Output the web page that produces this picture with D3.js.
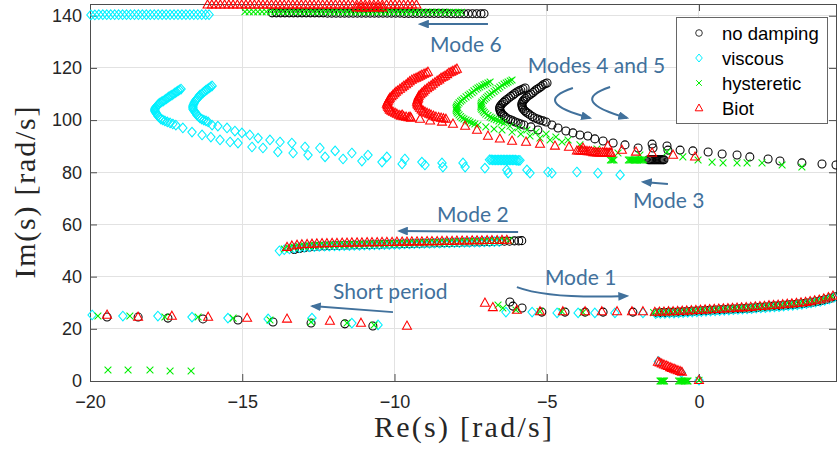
<!DOCTYPE html>
<html>
<head>
<meta charset="utf-8">
<script src="https://cdn.jsdelivr.net/npm/d3@7"></script>
<style>
body { margin: 0; background: #fff; }
</style>
</head>
<body>
<svg width="837" height="453"></svg>
<script>
// ---- data ----
var xTicks = [-20, -15, -10, -5, 0];
var yTicks = [0, 20, 40, 60, 80, 100, 120, 140];
var seriesNames = ["no damping", "viscous", "hysteretic", "Biot"];

// no damping
var ndShort = [[-19.44,24.5],[-18.42,24.5],[-17.44,24.1],[-16.29,23.8],[-15.14,23.4],[-13.99,22.6],[-12.74,22.2],[-11.63,21.9],[-10.71,21.1]];
var ndMode1 = [[-6.21,30.3],[-6.11,28.7],[-5.81,28.0],[-5.16,26.4],[-4.40,26.4],[-3.74,26.4],[-3.15,26.4],[-2.17,26.4],
  [-1.38,26.1],[-1.23,26.2],[-1.08,26.2],[-0.93,26.3],[-0.78,26.3],[-0.63,26.4],[-0.48,26.5],[-0.33,26.6],[-0.18,26.7],[-0.03,26.8],
  [0.12,26.9],[0.27,27.0],[0.42,27.1],[0.57,27.2],[0.72,27.3],[0.87,27.4],[1.02,27.5],[1.17,27.6],[1.32,27.7],[1.47,27.8],
  [1.62,27.9],[1.77,28.0],[1.92,28.2],[2.07,28.3],[2.22,28.4],[2.37,28.6],[2.52,28.7],[2.67,28.8],[2.82,29.0],[2.97,29.2],
  [3.12,29.3],[3.27,29.5],[3.42,29.7],[3.57,29.9],[3.72,30.2],[3.87,30.5],[4.02,30.8],[4.17,31.2],[4.32,31.7],[4.47,32.3]];
var ndMode2 = [[-13.29,50.4],[-13.12,50.8],[-12.96,51.1],[-12.79,51.3],[-12.63,51.5],[-12.47,51.6],[-12.30,51.7],[-12.14,51.8],
  [-11.97,51.9],[-11.81,51.9],[-11.64,52.0],[-11.48,52.0],[-11.32,52.1],[-11.15,52.1],[-10.99,52.2],[-10.82,52.2],[-10.66,52.3],
  [-10.49,52.3],[-10.33,52.4],[-10.17,52.4],[-10.00,52.5],[-9.84,52.5],[-9.67,52.6],[-9.51,52.6],[-9.35,52.7],[-9.18,52.7],
  [-9.02,52.8],[-8.85,52.8],[-8.69,52.9],[-8.52,52.9],[-8.36,53.0],[-8.20,53.0],[-8.03,53.1],[-7.87,53.1],[-7.70,53.2],
  [-7.54,53.2],[-7.37,53.3],[-7.21,53.3],[-7.05,53.4],[-6.88,53.4],[-6.72,53.5],[-6.55,53.5],[-6.39,53.6],[-6.22,53.6],
  [-6.06,53.7],[-5.92,53.7],[-5.82,53.8]];
var ndMode3 = [[-1.66,84.8],[-1.62,84.8],[-1.58,84.8],[-1.54,84.8],[-1.50,84.8],[-1.46,84.8],[-1.42,84.8],[-1.38,84.8],[-1.34,84.8],[-1.30,84.8],
  [-1.26,84.8],[-1.22,84.8],[-1.18,84.8],[-1.15,84.8]];
var ndModes45 = [
  [-5.71,112.3],[-5.78,111.9],[-5.85,111.5],[-5.91,111.2],[-5.98,110.8],[-6.05,110.2],[-6.11,109.6],[-6.18,109.1],[-6.24,108.5],
  [-6.31,107.9],[-6.37,107.3],[-6.42,106.8],[-6.47,106.2],[-6.51,105.6],[-6.54,105.0],[-6.55,104.5],[-6.54,103.9],[-6.52,103.3],
  [-6.50,102.7],[-6.45,102.2],[-6.40,101.6],[-6.34,101.0],[-6.27,100.4],[-6.19,100.1],[-6.11,99.7],[-6.03,99.3],[-5.94,98.9],
  [-5.85,98.5],[-5.75,98.1],
  [-4.99,114.2],[-5.05,113.9],[-5.12,113.5],[-5.18,112.9],[-5.25,112.3],[-5.32,111.8],[-5.39,111.2],[-5.45,110.6],[-5.52,110.0],
  [-5.58,109.5],[-5.65,108.9],[-5.70,108.3],[-5.75,107.7],[-5.78,107.2],[-5.81,106.6],[-5.82,106.0],[-5.81,105.4],[-5.80,104.9],
  [-5.78,104.3],[-5.73,103.7],[-5.68,103.1],[-5.62,102.6],[-5.55,102.0],[-5.47,101.4],[-5.39,100.8],[-5.30,100.4],[-5.22,100.0],
  [-5.12,99.7],[-5.02,99.3],
  [-5.52,97.4],[-5.29,96.2],[-4.83,98.1],[-4.63,97.0],[-4.37,95.8],[-4.14,95.1],[-3.91,94.3],[-3.65,93.9],[-3.42,92.8],
  [-3.15,92.0],[-2.82,91.2],[-2.43,90.5],[-2.00,89.3],[-1.54,90.8],[-1.51,89.3],[-1.05,90.1],[-1.02,88.5],[-0.62,88.5],
  [-0.20,88.2],[0.30,87.8],[0.76,87.0],[1.25,86.6],[1.67,85.9],[2.27,85.1],[2.66,84.3],[3.38,83.6],[4.04,83.2],[4.50,82.8]];
var ndMode6 = [[-14.02,141.1],[-13.88,141.1],[-13.74,141.1],[-13.60,141.1],[-13.46,141.1],[-13.32,141.1],[-13.18,141.1],
  [-13.04,141.1],[-12.90,141.1],[-12.76,141.1],[-12.62,141.1],[-12.48,141.1],[-12.34,141.1],[-12.20,141.0],[-12.06,141.0],
  [-11.92,141.0],[-11.78,141.0],[-11.64,141.0],[-11.50,141.0],[-11.36,141.0],[-11.22,141.0],[-11.08,141.0],[-10.94,141.0],
  [-10.80,141.0],[-10.66,141.0],[-10.52,141.0],[-10.38,141.0],[-10.24,141.0],[-10.10,141.0],[-9.96,141.0],[-9.82,141.0],
  [-9.68,140.9],[-9.54,140.9],[-9.40,140.9],[-9.26,140.9],[-9.12,140.9],[-8.98,140.9],[-8.84,140.9],[-8.70,140.9],
  [-8.56,140.9],[-8.42,140.9],[-8.28,140.9],[-8.14,140.8],[-8.00,140.8],[-7.86,140.8],[-7.72,140.8],[-7.58,140.8],
  [-7.44,140.8],[-7.30,140.8],[-7.16,140.8],[-7.06,140.8]];

// viscous
var viShort = [[-19.93,25.3],[-18.92,24.9],[-17.77,24.9],[-16.65,24.5],[-15.47,24.1],[-14.15,23.8],[-12.71,24.1],[-11.40,22.2],[-10.54,21.5]];
var viMode1 = [[-6.34,26.4],[-5.48,26.4],[-4.66,26.1],[-3.97,26.1],[-3.42,26.1],[-2.76,26.1],[-1.84,26.1],
  [-1.42,25.8],[-1.27,25.9],[-1.12,25.9],[-0.97,26.0],[-0.82,26.0],[-0.67,26.1],[-0.52,26.2],[-0.37,26.3],[-0.22,26.4],
  [-0.07,26.5],[0.08,26.6],[0.23,26.7],[0.38,26.8],[0.53,26.9],[0.68,27.0],[0.83,27.1],[0.98,27.2],[1.13,27.3],[1.28,27.4],
  [1.43,27.5],[1.58,27.6],[1.73,27.7],[1.88,27.9],[2.03,28.0],[2.18,28.1],[2.33,28.3],[2.48,28.4],[2.63,28.5],[2.78,28.7],
  [2.93,28.9],[3.08,29.0],[3.23,29.2],[3.38,29.4],[3.53,29.6],[3.68,29.9],[3.83,30.2],[3.98,30.5],[4.13,30.9],[4.28,31.4],[4.43,32.0]];
var viMode2 = [[-13.78,49.9],[-13.62,50.3],[-13.45,50.6],[-13.29,50.9],[-13.12,51.1],[-12.96,51.3],[-12.80,51.4],[-12.63,51.5],
  [-12.47,51.6],[-12.30,51.7],[-12.14,51.7],[-11.97,51.8],[-11.81,51.8],[-11.65,51.9],[-11.48,51.9],[-11.32,52.0],[-11.15,52.0],
  [-10.99,52.1],[-10.82,52.1],[-10.66,52.2],[-10.50,52.2],[-10.33,52.3],[-10.17,52.3],[-10.00,52.4],[-9.84,52.4],[-9.67,52.5],
  [-9.51,52.5],[-9.35,52.6],[-9.18,52.6],[-9.02,52.7],[-8.85,52.7],[-8.69,52.8],[-8.52,52.8],[-8.36,52.9],[-8.20,52.9],
  [-8.03,53.0],[-7.87,53.0],[-7.70,53.1],[-7.54,53.1],[-7.37,53.2],[-7.21,53.2],[-7.05,53.3],[-6.88,53.3],[-6.72,53.4],[-6.56,53.4]];
var viMode3 = [[-6.88,84.8],[-6.83,84.8],[-6.78,84.7],[-6.73,84.7],[-6.68,84.7],[-6.63,84.7],[-6.58,84.7],[-6.53,84.7],
  [-6.48,84.7],[-6.43,84.7],[-6.38,84.7],[-6.33,84.7],[-6.28,84.7],[-6.23,84.7],[-6.18,84.7],[-6.13,84.7],[-6.08,84.7],
  [-6.03,84.7],[-5.98,84.6],[-5.93,84.6],[-5.88,84.6]];
var viNearZero = [[-1.33,7.5],[-0.58,3.2],[0.0,0.3]];
var viModes45 = [
  [-17.01,111.9],[-17.06,111.6],[-17.11,111.2],[-17.16,110.8],[-17.21,110.4],[-17.26,110.0],[-17.31,109.6],[-17.36,109.3],
  [-17.41,108.9],[-17.45,108.5],[-17.50,108.1],[-17.55,107.7],[-17.60,107.3],[-17.65,107.0],[-17.70,106.6],[-17.74,106.2],
  [-17.77,105.8],[-17.80,105.4],[-17.83,105.0],[-17.85,104.7],[-17.87,104.3],[-17.87,103.9],[-17.87,103.5],[-17.85,103.1],
  [-17.83,102.7],[-17.80,102.2],[-17.77,101.6],[-17.72,101.0],[-17.67,100.4],[-17.61,100.1],[-17.54,99.7],[-17.46,99.3],
  [-17.37,98.9],[-17.28,98.5],[-17.18,98.1],
  [-15.99,113.1],[-16.04,112.7],[-16.09,112.3],[-16.14,111.9],[-16.19,111.5],[-16.24,111.0],[-16.29,110.4],[-16.34,110.0],
  [-16.39,109.6],[-16.42,109.1],[-16.45,108.5],[-16.49,108.1],[-16.52,107.7],[-16.55,107.2],[-16.58,106.6],[-16.60,106.0],
  [-16.62,105.4],[-16.62,104.9],[-16.62,104.3],[-16.59,103.7],[-16.55,103.1],[-16.52,102.6],[-16.49,102.0],[-16.44,101.4],
  [-16.39,100.8],[-16.33,100.4],[-16.26,100.0],[-16.19,99.7],[-16.12,99.3],
  [-15.99,98.1],[-15.80,97.7],[-15.50,97.0],[-15.24,95.8],[-15.01,95.1],[-14.75,94.3],[-14.48,93.1],[-14.09,92.4],
  [-13.76,91.6],[-13.37,91.2],[-12.94,89.7],[-12.45,89.3],[-11.95,88.2],[-11.40,87.4],[-10.87,86.6],[-10.25,85.9],
  [-9.66,85.1],[-9.10,83.9],[-8.44,83.6],[-7.75,83.6],[-7.03,81.6],[-6.31,80.9],[-5.65,80.9],[-4.96,80.1],[-4.01,80.1],
  [-3.32,79.7],[-2.59,79.0],
  [-16.95,97.0],[-16.65,95.4],[-16.32,94.3],[-16.03,93.5],[-15.73,92.4],[-15.40,91.6],[-15.14,91.2],[-14.68,89.7],
  [-14.32,89.3],[-13.83,87.8],[-13.33,87.4],[-12.84,86.6],[-12.28,85.9],[-11.69,85.1],[-11.07,84.3],[-10.41,83.9],
  [-9.75,83.2],[-9.00,82.8],[-8.41,82.0],[-7.68,82.0],[-6.27,79.7],[-5.55,79.7],[-4.83,79.7]];
var viMode6 = [[-19.97,140.3],[-19.84,140.3],[-19.71,140.4],[-19.58,140.4],[-19.45,140.4],[-19.32,140.4],[-19.19,140.4],
  [-19.06,140.4],[-18.93,140.4],[-18.80,140.4],[-18.67,140.4],[-18.54,140.4],[-18.41,140.4],[-18.28,140.4],[-18.15,140.4],
  [-18.02,140.4],[-17.89,140.4],[-17.76,140.4],[-17.63,140.4],[-17.50,140.4],[-17.37,140.4],[-17.24,140.4],[-17.11,140.4],
  [-16.98,140.4],[-16.85,140.4],[-16.72,140.4],[-16.59,140.4],[-16.46,140.4],[-16.33,140.4],[-16.20,140.4],[-16.09,140.4]];

// hysteretic
var hyShort = [[-19.74,24.9],[-18.69,24.9],[-17.54,24.5],[-16.45,24.5],[-15.30,24.1],[-14.09,23.4],[-12.74,22.6],[-11.56,22.2],[-10.67,21.5],
  [-19.41,4.2],[-18.75,4.2],[-18.03,4.2],[-17.37,3.8],[-16.68,3.8]];
var hyMode1 = [[-6.60,29.1],[-6.44,28.0],[-6.01,27.2],[-5.22,26.6],[-4.50,26.6],[-3.81,26.3],
  [-1.49,26.2],[-1.34,26.3],[-1.19,26.3],[-1.04,26.4],[-0.89,26.4],[-0.74,26.5],[-0.59,26.6],[-0.44,26.7],[-0.29,26.8],
  [-0.14,26.9],[0.01,27.0],[0.16,27.1],[0.31,27.2],[0.46,27.3],[0.61,27.4],[0.76,27.5],[0.91,27.6],[1.06,27.7],[1.21,27.8],
  [1.36,27.9],[1.51,28.0],[1.66,28.1],[1.81,28.3],[1.96,28.4],[2.11,28.5],[2.26,28.7],[2.41,28.8],[2.56,28.9],[2.71,29.1],
  [2.86,29.3],[3.01,29.4],[3.16,29.6],[3.31,29.8],[3.46,30.0],[3.61,30.3],[3.76,30.6],[3.91,30.9],[4.06,31.3],[4.21,31.8],[4.36,32.4]];
var hyMode2 = [[-13.62,50.6],[-13.46,51.0],[-13.29,51.3],[-13.13,51.5],[-12.96,51.7],[-12.80,51.8],[-12.64,51.9],[-12.47,52.0],
  [-12.31,52.0],[-12.14,52.1],[-11.98,52.1],[-11.81,52.2],[-11.65,52.2],[-11.49,52.3],[-11.32,52.3],[-11.16,52.4],[-10.99,52.4],
  [-10.83,52.5],[-10.66,52.5],[-10.50,52.6],[-10.34,52.6],[-10.17,52.7],[-10.01,52.7],[-9.84,52.8],[-9.68,52.8],[-9.52,52.9],
  [-9.35,52.9],[-9.19,53.0],[-9.02,53.0],[-8.86,53.1],[-8.69,53.1],[-8.53,53.2],[-8.37,53.2],[-8.20,53.3],[-8.04,53.3],
  [-7.87,53.4],[-7.71,53.4],[-7.54,53.5],[-7.38,53.5],[-7.22,53.6],[-7.05,53.6],[-6.89,53.7],[-6.72,53.7],[-6.56,53.8],
  [-6.40,53.8],[-6.24,53.9]];
var hyMode3 = [[-2.91,84.7],[-2.87,84.7],[-2.83,84.7],[-2.79,84.7],
  [-2.32,84.7],[-2.28,84.7],[-2.24,84.7],[-2.20,84.7],[-2.16,84.7],[-2.12,84.7],[-2.08,84.7],[-2.04,84.7],[-2.00,84.7],
  [-1.96,84.7],[-1.92,84.7],[-1.88,84.7],[-1.84,84.7],[-1.82,84.7]];
var hyNearZero = [[-1.28,0],[-1.25,0],[-1.22,0],[-1.19,0],[-1.16,0],[-1.13,0],
  [-0.67,0],[-0.63,0],[-0.59,0],[-0.55,0],[-0.51,0],[-0.47,0],[-0.43,0],[-0.39,0],[-0.36,0],[0.0,0.3]];
var hyModes45 = [
  [-6.86,114.6],[-6.93,114.2],[-7.00,113.8],[-7.06,113.5],[-7.13,113.1],[-7.20,112.7],[-7.26,112.3],[-7.32,111.8],[-7.39,111.2],
  [-7.45,110.6],[-7.52,110.0],[-7.58,109.5],[-7.65,108.9],[-7.72,108.3],[-7.78,107.7],[-7.83,107.2],[-7.88,106.6],[-7.92,106.0],
  [-7.95,105.4],[-7.97,104.9],[-7.98,104.3],[-7.97,103.7],[-7.95,103.1],[-7.92,102.6],[-7.88,102.0],[-7.83,101.4],[-7.78,100.8],
  [-7.72,100.4],[-7.65,100.0],[-7.58,99.7],[-7.52,99.3],[-7.44,98.9],[-7.36,98.5],
  [-6.14,115.4],[-6.20,115.0],[-6.27,114.6],[-6.33,114.2],[-6.40,113.8],[-6.47,113.3],[-6.54,112.7],[-6.60,112.1],[-6.67,111.5],
  [-6.73,111.0],[-6.80,110.4],[-6.87,109.8],[-6.93,109.2],[-6.98,108.7],[-7.03,108.1],[-7.08,107.5],[-7.13,106.9],[-7.15,106.4],
  [-7.16,105.8],[-7.16,105.2],[-7.16,104.6],[-7.13,104.1],[-7.09,103.5],[-7.05,102.9],[-7.00,102.3],[-6.93,101.8],[-6.86,101.2],
  [-6.80,100.8],[-6.73,100.4],[-6.65,100.1],[-6.57,99.7],[-6.49,99.3],[-6.40,98.9],
  [-7.26,98.1],[-7.00,97.4],[-6.73,96.6],[-6.47,96.2],[-6.21,97.7],[-6.14,95.4],[-5.94,97.0],[-5.85,94.7],[-5.65,96.2],
  [-5.55,93.9],[-5.35,95.4],[-5.22,93.1],[-5.02,94.7],[-4.89,92.4],[-4.70,93.5],[-4.50,91.6],[-4.30,92.4],[-3.91,90.5],
  [-3.35,88.9],[-2.66,87.4],[-1.94,86.6],[-1.05,87.8],[-0.53,85.9],[-0.03,84.7],[0.43,83.9],[0.79,83.6],[1.25,83.6],
  [1.58,83.6],[2.07,83.6],[2.73,82.8],[3.38,82.0]];
var hyMode6 = [[-14.91,141.5],[-14.77,141.5],[-14.63,141.5],[-14.49,141.5],[-14.35,141.5],[-14.21,141.5],[-14.07,141.5],
  [-13.93,141.5],[-13.79,141.5],[-13.65,141.5],[-13.51,141.5],[-13.37,141.5],[-13.23,141.5],[-13.09,141.5],[-12.95,141.5],
  [-12.81,141.5],[-12.67,141.5],[-12.53,141.5],[-12.39,141.5],[-12.25,141.5],[-12.11,141.4],[-11.97,141.4],[-11.83,141.4],
  [-11.69,141.4],[-11.55,141.4],[-11.41,141.4],[-11.27,141.4],[-11.13,141.4],[-10.99,141.4],[-10.85,141.4],[-10.71,141.4],
  [-10.57,141.4],[-10.43,141.4],[-10.29,141.4],[-10.15,141.4],[-10.01,141.4],[-9.87,141.4],[-9.73,141.4],[-9.59,141.4],
  [-9.45,141.4],[-9.31,141.4],[-9.17,141.3],[-9.03,141.3],[-8.89,141.3],[-8.75,141.3],[-8.61,141.3],[-8.47,141.3],
  [-8.33,141.3],[-8.19,141.3],[-8.05,141.3],[-7.91,141.3],[-7.80,141.3]];

// Biot
var biShort = [[-19.44,25.3],[-18.42,24.5],[-17.31,24.9],[-16.12,24.5],[-14.84,24.1],[-13.53,23.8],[-12.12,23.0],[-11.10,22.2],[-9.59,21.1]];
var biMode1 = [[-7.03,29.9],[-6.77,28.2],[-5.98,27.2],[-5.22,26.6],[-4.47,26.6],[-3.74,26.6],[-3.19,26.6],[-2.69,26.6],[-2.20,26.6],[-1.84,26.6],
  [-1.45,26.4],[-1.30,26.5],[-1.15,26.5],[-1.00,26.6],[-0.85,26.6],[-0.70,26.7],[-0.55,26.8],[-0.40,26.9],[-0.25,27.0],
  [-0.10,27.1],[0.05,27.2],[0.20,27.3],[0.35,27.4],[0.50,27.5],[0.65,27.6],[0.80,27.7],[0.95,27.8],[1.10,27.9],[1.25,28.0],
  [1.40,28.1],[1.55,28.2],[1.70,28.3],[1.85,28.5],[2.00,28.6],[2.15,28.7],[2.30,28.9],[2.45,29.0],[2.60,29.1],[2.75,29.3],
  [2.90,29.5],[3.05,29.6],[3.20,29.8],[3.35,30.0],[3.50,30.2],[3.65,30.5],[3.80,30.8],[3.95,31.1],[4.10,31.5],[4.25,32.0],[4.40,32.6]];
var biMode2 = [[-13.53,51.3],[-13.37,51.8],[-13.20,52.1],[-13.04,52.3],[-12.87,52.4],[-12.71,52.5],[-12.55,52.6],[-12.38,52.7],
  [-12.22,52.7],[-12.05,52.8],[-11.89,52.8],[-11.72,52.9],[-11.56,52.9],[-11.40,53.0],[-11.23,53.0],[-11.07,53.0],[-10.90,53.1],
  [-10.74,53.1],[-10.57,53.1],[-10.41,53.2],[-10.25,53.2],[-10.08,53.2],[-9.92,53.3],[-9.75,53.3],[-9.59,53.3],[-9.43,53.4],
  [-9.26,53.4],[-9.10,53.4],[-8.93,53.5],[-8.77,53.5],[-8.60,53.5],[-8.44,53.6],[-8.28,53.6],[-8.11,53.6],[-7.95,53.7],
  [-7.78,53.7],[-7.62,53.7],[-7.45,53.8],[-7.29,53.8],[-7.13,53.8],[-6.96,53.9],[-6.80,53.9],[-6.63,53.9],[-6.47,54.0],[-6.31,54.0]];
var biMode3 = [[-4.01,88.2],[-3.95,88.2],[-3.89,88.2],[-3.83,88.2],[-3.77,88.1],[-3.71,88.1],[-3.65,88.0],[-3.59,88.0],[-3.53,87.9],
  [-3.47,87.6],[-3.41,87.6],[-3.35,87.5],[-3.29,87.5],[-3.23,87.5],[-3.17,87.5],[-3.11,87.5],[-3.05,87.5],[-2.99,87.4],
  [-2.93,87.4],[-2.89,87.4]];
var biNearZero = [[-1.35,7.3],[-1.29,7.0],[-1.22,6.6],[-1.15,6.2],[-1.08,5.9],[-1.02,5.6],[-0.95,5.2],[-0.89,4.9],
  [-0.82,4.6],[-0.76,4.3],[-0.69,4.0],[-0.62,3.7],[-0.56,3.4],[0.0,0.3]];
var biModes45 = [
  [-8.90,118.4],[-8.96,118.0],[-9.03,117.7],[-9.10,117.3],[-9.16,116.9],[-9.22,116.5],[-9.29,116.1],[-9.36,115.8],[-9.43,115.4],
  [-9.50,114.8],[-9.56,114.2],[-9.62,113.6],[-9.69,113.1],[-9.75,112.5],[-9.82,111.9],[-9.89,111.3],[-9.95,110.8],[-10.00,110.2],
  [-10.05,109.6],[-10.10,109.0],[-10.15,108.5],[-10.18,107.9],[-10.21,107.3],[-10.23,106.7],[-10.25,106.2],[-10.23,105.6],
  [-10.21,105.0],[-10.18,104.4],[-10.15,103.9],[-10.10,103.5],[-10.05,103.1],[-9.98,102.7],[-9.92,102.3],[-9.85,101.9],
  [-9.79,101.6],[-9.70,101.4],[-9.62,101.2],[-9.54,101.0],[-9.46,100.8],
  [-7.95,119.6],[-8.01,119.2],[-8.08,118.8],[-8.14,118.4],[-8.21,118.1],[-8.27,117.5],[-8.34,116.9],[-8.40,116.5],[-8.47,116.1],
  [-8.53,115.5],[-8.60,115.0],[-8.67,114.4],[-8.74,113.8],[-8.80,113.2],[-8.87,112.7],[-8.93,112.1],[-9.00,111.5],[-9.05,110.9],
  [-9.10,110.4],[-9.15,109.8],[-9.20,109.2],[-9.22,108.6],[-9.23,108.1],[-9.25,107.5],[-9.26,106.9],[-9.25,106.3],[-9.23,105.8],
  [-9.20,105.2],[-9.16,104.6],[-9.11,104.0],[-9.06,103.5],[-9.00,103.1],[-8.93,102.7],[-8.86,102.3],[-8.80,102.0],[-8.72,101.6],
  [-8.64,101.2],[-8.55,101.0],[-8.47,100.8],[-8.39,100.6],[-8.31,100.4],
  [-9.75,102.0],[-9.49,101.2],[-9.16,100.4],[-8.83,99.7],[-8.44,99.3],[-8.08,98.5],[-7.68,97.7],[-7.29,96.2],[-6.93,93.9],
  [-6.54,92.8],[-6.14,92.0],[-5.68,91.6],[-5.22,90.8],[-4.73,90.1],[-4.27,89.7],[-3.81,89.3],[-2.99,90.1],[-2.53,88.5],
  [-2.07,87.8],[-1.54,87.4],[-0.85,86.6],[-0.13,85.9]];
var biMode6 = [[-16.14,144.2],[-16.00,144.2],[-15.86,144.2],[-15.72,144.2],[-15.58,144.2],[-15.44,144.2],[-15.30,144.2],
  [-15.16,144.2],[-15.02,144.2],[-14.88,144.2],[-14.74,144.2],[-14.60,144.2],[-14.46,144.2],[-14.32,144.2],[-14.18,144.2],
  [-14.04,144.2],[-13.90,144.2],[-13.76,144.2],[-13.62,144.2],[-13.48,144.2],[-13.34,144.2],[-13.20,144.2],[-13.06,144.2],
  [-12.92,144.2],[-12.78,144.2],[-12.64,144.2],[-12.50,144.2],[-12.36,144.2],[-12.22,144.2],[-12.08,144.2],[-11.94,144.2],
  [-11.80,144.2],[-11.66,144.2],[-11.52,144.2],[-11.38,144.2],[-11.24,144.2],[-11.10,144.2],[-10.96,144.2],[-10.82,144.2],
  [-10.68,144.2],[-10.54,144.2],[-10.40,144.2],[-10.26,144.2],[-10.12,144.2],[-9.98,144.2],[-9.84,144.2],[-9.70,144.2],
  [-9.56,144.2],[-9.42,144.2],[-9.28,144.2],
  [-11.24,143.1],[-11.10,143.1],[-10.96,143.1],[-10.82,143.1],[-10.68,143.1],[-10.54,143.1],[-10.40,143.1]];

// annotations (data coordinates)
var notes = [
  {text: "Mode 6", at: [-8.83, 126.1]},
  {text: "Modes 4 and 5", at: [-5.62, 118.0]},
  {text: "Mode 3", at: [-2.17, 66.3]},
  {text: "Mode 2", at: [-8.60, 60.9]},
  {text: "Short period", at: [-12.02, 31.6]},
  {text: "Mode 1", at: [-5.06, 36.8]}
];
var arrows = [
  [[-6.93, 136.8], [-9.16, 136.8]],
  [[-1.02, 75.5], [-1.84, 76.3]],
  [[-5.94, 57.1], [-9.85, 57.5]],
  [[-10.05, 26.4], [-12.71, 28.7]]
];
var curvedArrows = [
  [[-4.14, 112.3], [-5.55, 106.9], [-3.58, 100.8]],
  [[-2.92, 112.7], [-4.33, 107.3], [-2.36, 100.8]],
  [[-5.98, 36.0], [-4.92, 31.4], [-2.36, 32.6]]
];

// ---- chart ----
var series = [
  {name: seriesNames[0], color: "#000000", shape: "circle", points: [].concat(ndShort, ndMode1, ndMode2, ndMode3, ndModes45, ndMode6)},
  {name: seriesNames[1], color: "#00f0ff", shape: "diamond", points: [].concat(viShort, viMode1, viMode2, viMode3, viNearZero, viModes45, viMode6)},
  {name: seriesNames[2], color: "#00ee00", shape: "cross", points: [].concat(hyShort, hyMode1, hyMode2, hyMode3, hyNearZero, hyModes45, hyMode6)},
  {name: seriesNames[3], color: "#ff0000", shape: "triangle", points: [].concat(biShort, biMode1, biMode2, biMode3, biNearZero, biModes45, biMode6)}
];

var shapes = {
  diamond: "M0,-4.8L4.2,0L0,4.8L-4.2,0Z",
  cross: "M-3.4,-3.4L3.4,3.4M-3.4,3.4L3.4,-3.4",
  triangle: "M0,-4.9L4.5,3.2L-4.5,3.2Z"
};
var smallShapes = {
  diamond: "M0,-4L3.3,0L0,4L-3.3,0Z",
  cross: "M-2.8,-2.8L2.8,2.8M-2.8,2.8L2.8,-2.8",
  triangle: "M0,-4L3.8,2.8L-3.8,2.8Z"
};

var svg = d3.select("svg"),
    margin = {top: 4, right: 1, bottom: 72, left: 90},
    width = +svg.attr("width") - margin.left - margin.right,
    height = +svg.attr("height") - margin.top - margin.bottom,
    g = svg.append("g").attr("transform", "translate(" + margin.left + "," + margin.top + ")");

var blue = "#41719c";
svg.append("defs").append("marker")
    .attr("id", "head").attr("viewBox", "0 0 10 8").attr("refX", 8).attr("refY", 4)
    .attr("markerWidth", 5.5).attr("markerHeight", 4.4).attr("orient", "auto")
  .append("path").attr("d", "M0,0L10,4L0,8Z").attr("fill", blue);

var x = d3.scaleLinear().domain([-20, 4.5]).range([0, width]);
var y = d3.scaleLinear().domain([0, 144.5]).range([height, 0]);

// grid
g.append("g").selectAll("line").data(xTicks.slice(1)).enter().append("line")
    .attr("x1", function(d) { return x(d); }).attr("x2", function(d) { return x(d); })
    .attr("y1", 0).attr("y2", height)
    .attr("stroke", "#e2e2e2").attr("shape-rendering", "crispEdges");
g.append("g").selectAll("line").data(yTicks.slice(1)).enter().append("line")
    .attr("y1", function(d) { return y(d); }).attr("y2", function(d) { return y(d); })
    .attr("x1", 0).attr("x2", width)
    .attr("stroke", "#e2e2e2").attr("shape-rendering", "crispEdges");

// axes, ticks pointing inwards on all four sides
var tickFont = "'Liberation Sans', Arial, sans-serif";
function styleAxis(sel) {
  sel.select(".domain").remove();
  sel.selectAll(".tick line").attr("stroke", "#4d4d4d");
  sel.selectAll("text").attr("fill", "#262626").style("font-family", tickFont).style("font-size", "18px");
}
g.append("g").attr("transform", "translate(0," + height + ")")
    .call(d3.axisBottom(x).tickValues(xTicks).tickSizeInner(-7).tickSizeOuter(0).tickPadding(14))
    .call(styleAxis);
g.append("g")
    .call(d3.axisLeft(y).tickValues(yTicks).tickSizeInner(-7).tickSizeOuter(0).tickPadding(8))
    .call(styleAxis);
g.append("g")
    .call(d3.axisTop(x).tickValues(xTicks).tickSizeInner(-7).tickSizeOuter(0).tickFormat(""))
    .call(styleAxis);
g.append("g").attr("transform", "translate(" + width + ",0)")
    .call(d3.axisRight(y).tickValues(yTicks).tickSizeInner(-7).tickSizeOuter(0).tickFormat(""))
    .call(styleAxis);
g.append("rect").attr("width", width).attr("height", height)
    .attr("fill", "none").attr("stroke", "#4d4d4d").attr("shape-rendering", "crispEdges");

// markers
series.forEach(function(s) {
  var grp = g.append("g").attr("fill", "none").attr("stroke", s.color).attr("stroke-width", 1.05);
  if (s.shape === "circle") {
    grp.selectAll("circle").data(s.points).enter().append("circle")
        .attr("cx", function(d) { return x(d[0]); })
        .attr("cy", function(d) { return y(d[1]); })
        .attr("r", 4);
  } else {
    grp.selectAll("path").data(s.points).enter().append("path")
        .attr("d", shapes[s.shape])
        .attr("transform", function(d) { return "translate(" + x(d[0]) + "," + y(d[1]) + ")"; });
  }
});

// annotations
var noteFont = "Lato, 'Open Sans', sans-serif";
g.append("g").selectAll("text").data(notes).enter().append("text")
    .attr("x", function(d) { return x(d.at[0]); })
    .attr("y", function(d) { return y(d.at[1]); })
    .attr("fill", blue).style("font-family", noteFont).style("font-size", "21px")
    .text(function(d) { return d.text; });
g.append("g").selectAll("line").data(arrows).enter().append("line")
    .attr("x1", function(d) { return x(d[0][0]); }).attr("y1", function(d) { return y(d[0][1]); })
    .attr("x2", function(d) { return x(d[1][0]); }).attr("y2", function(d) { return y(d[1][1]); })
    .attr("stroke", blue).attr("stroke-width", 2).attr("marker-end", "url(#head)");
g.append("g").selectAll("path").data(curvedArrows).enter().append("path")
    .attr("d", function(d) {
      return "M" + x(d[0][0]) + "," + y(d[0][1]) + "Q" + x(d[1][0]) + "," + y(d[1][1]) + " " + x(d[2][0]) + "," + y(d[2][1]);
    })
    .attr("fill", "none").attr("stroke", blue).attr("stroke-width", 2).attr("marker-end", "url(#head)");

// legend
var legend = svg.append("g").attr("transform", "translate(676,17)");
legend.append("rect").attr("width", 151).attr("height", 106)
    .attr("fill", "#fff").attr("stroke", "#666").attr("shape-rendering", "crispEdges");
var item = legend.selectAll(".item").data(series).enter().append("g")
    .attr("class", "item")
    .attr("transform", function(d, i) { return "translate(23," + (16 + i * 25) + ")"; });
item.each(function(d) {
  var el = d3.select(this);
  if (d.shape === "circle") {
    el.append("circle").attr("r", 3.3).attr("fill", "none").attr("stroke", "#333").attr("stroke-width", 1);
  } else {
    el.append("path").attr("d", smallShapes[d.shape]).attr("fill", "none").attr("stroke", d.color).attr("stroke-width", 1);
  }
});
item.append("text").attr("x", 23).attr("y", 6.5)
    .attr("fill", "#000").style("font-family", tickFont).style("font-size", "18.5px")
    .text(function(d) { return d.name; });

// axis titles
var titleFont = "'Liberation Serif', 'Times New Roman', serif";
svg.append("text")
    .attr("x", margin.left + width / 2).attr("y", 437)
    .attr("text-anchor", "middle").attr("textLength", 178).attr("lengthAdjust", "spacing")
    .attr("fill", "#262626").style("font-family", titleFont).style("font-size", "30px")
    .text("Re(s)  [rad/s]");
svg.append("text")
    .attr("transform", "translate(35," + (margin.top + height / 2) + ") rotate(-90)")
    .attr("text-anchor", "middle").attr("textLength", 172).attr("lengthAdjust", "spacing")
    .attr("fill", "#262626").style("font-family", titleFont).style("font-size", "30px")
    .text("Im(s)  [rad/s]");
</script>
</body>
</html>
